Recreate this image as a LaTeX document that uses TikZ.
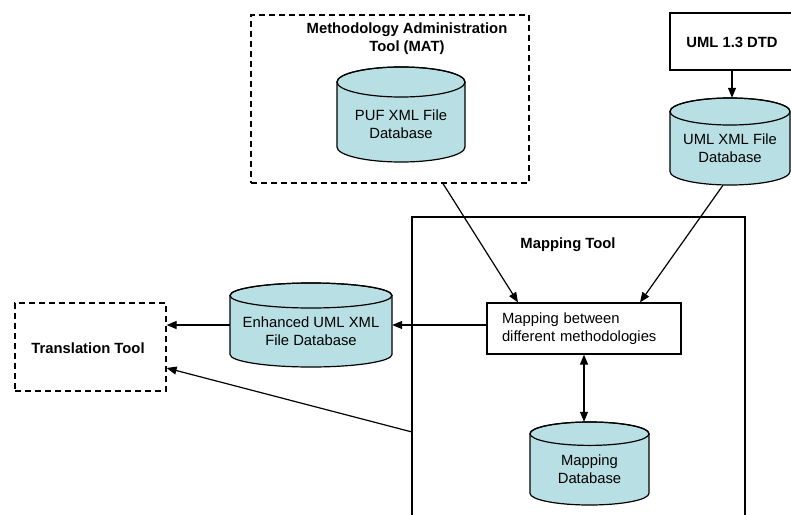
\documentclass[tikz,border=0pt]{standalone}
\usepackage{fontspec}
\setmainfont{Liberation Sans}
\usetikzlibrary{arrows.meta}
\definecolor{dbfill}{RGB}{184,224,228}
% Database cylinder: #1 name, #2 centre x, #3 top y, #4 bottom y,
% #5 width, #6 half height of the end ellipse, #7 label, #8 label centre y
\newcommand\dbdraw[8]{%
  \filldraw[line, fill=dbfill]
    ({#2-#5/2},{#3+#6}) -- ({#2-#5/2},{#4-#6})
    arc[start angle=180, end angle=360, x radius={#5/2*1pt}, y radius={#6*1pt}]
    -- ({#2+#5/2},{#3+#6})
    arc[start angle=0, end angle=180, x radius={#5/2*1pt}, y radius={#6*1pt}] -- cycle;
  \draw[line] (#2,{#3+#6}) ellipse[x radius={#5/2*1pt}, y radius={#6*1pt}];
  \node[minimum width=#5pt, minimum height={(#4-#3)*1pt}] (#1) at (#2,{(#3+#4)/2}) {};
  \node[align=center] (#1text) at (#2,#8) {#7};
}
\begin{document}
\begin{tikzpicture}[x=1pt,y=-1pt,
  every node/.style={font=\fontsize{14.8}{18}\selectfont, inner sep=0pt},
  line/.style={line width=1.2pt},
  arr/.style={line, -{Triangle[length=10pt,width=8pt]}},
  dbl/.style={line, {Triangle[length=10pt,width=8pt]}-{Triangle[length=10pt,width=8pt]}},
  plainbox/.style={rectangle, draw, line width=1.2pt},
  dashbox/.style={rectangle, draw, line width=1.2pt, dash pattern=on 6pt off 4pt},
  title/.style={font=\bfseries\fontsize{14.8}{18}\selectfont, align=center}
]
\useasboundingbox (0,0) rectangle (791,514);

% Methodology Administration Tool
\node[dashbox, minimum width=278pt, minimum height=168pt] (mat) at (390,99) {};
\node[title] (mattitle) at (407,39) {Methodology Administration\\Tool (MAT)};
\dbdraw{puf}{401}{67}{162}{128}{15}{PUF XML File\\Database}{124}

% UML definition and its database
\node[plainbox, minimum width=124pt, minimum height=57pt] (dtd) at (732,41.5) {};
\node[title] (dtdtext) at (732,42) {UML 1.3 DTD};
\dbdraw{umlxml}{730}{98}{185}{120}{13.5}{UML XML File\\Database}{148}

% Mapping Tool
\node[rectangle, draw, line width=2pt, minimum width=333pt, minimum height=320pt] (maptool) at (578.5,377) {};
\node[title] (maptitle) at (568,245) {Mapping Tool};
\node[plainbox, minimum width=194pt, minimum height=51pt, align=left, text width=180pt] (map) at (584,328.5)
  {\hspace*{8pt}Mapping between\\\hspace*{8pt}different methodologies};
\dbdraw{mapdb}{589.5}{422}{505}{119}{11.7}{Mapping\\Database}{469.5}

% Enhanced database and translation
\dbdraw{enh}{311}{283}{367}{162}{12.5}{Enhanced UML XML\\File Database}{331}
\node[dashbox, minimum width=151pt, minimum height=88pt] (trans) at (90.5,347) {};
\node[title] (transtext) at (88,348) {Translation Tool};

\coordinate (mtout) at (412,432);

% Connectors
\draw[arr] (dtd.south) -- (dtd.south |- umlxml.north);
\draw[arr] ([xshift=53pt]mat.south) -- ([xshift=-66pt]map.north);
\draw[arr] ([xshift=-7pt]umlxml.south) -- ([xshift=56pt]map.north);
\draw[arr] (map.west |- enh.east) -- (enh.east);
\draw[arr] (enh.west) -- (trans.east |- enh.west);
\draw[arr] (mtout) -- ([yshift=-21pt]trans.east);
\draw[dbl] (map.south) -- (map.south |- mapdb.north);
\end{tikzpicture}
\end{document}
